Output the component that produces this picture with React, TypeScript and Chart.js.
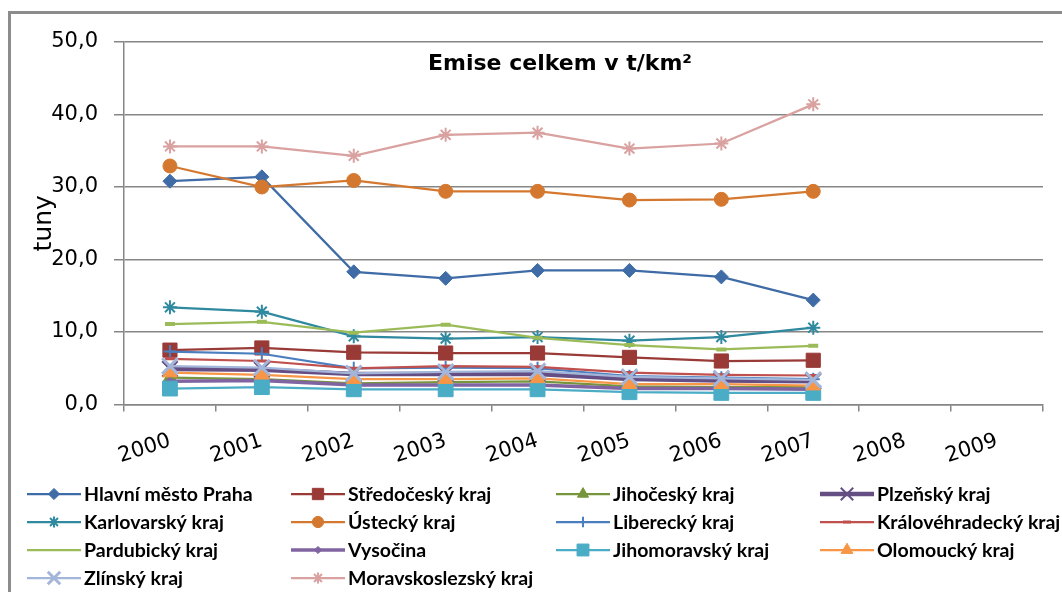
import React, { useEffect, useRef } from 'react';
import { Chart, registerables } from 'chart.js';
import { drawPoint } from 'chart.js/helpers';

Chart.register(...registerables);

const TITLE = 'Emise celkem v t/km²';
const Y_TITLE = 'tuny';
const years = ['2000', '2001', '2002', '2003', '2004', '2005', '2006', '2007', '2008', '2009'];

const seriesNames = [
  'Hlavní město Praha', 'Středočeský kraj', 'Jihočeský kraj', 'Plzeňský kraj',
  'Karlovarský kraj', 'Ústecký kraj', 'Liberecký kraj', 'Královéhradecký kraj',
  'Pardubický kraj', 'Vysočina', 'Jihomoravský kraj', 'Olomoucký kraj',
  'Zlínský kraj', 'Moravskoslezský kraj',
];

const praha = [30.8, 31.4, 18.3, 17.4, 18.5, 18.5, 17.6, 14.4];
const stredocesky = [7.5, 7.8, 7.2, 7.1, 7.1, 6.5, 6.0, 6.1];
const jihocesky = [3.7, 3.5, 2.9, 3.1, 3.2, 2.5, 2.4, 2.4];
const plzensky = [4.9, 4.8, 4.2, 4.2, 4.2, 3.5, 3.3, 3.2];
const karlovarsky = [13.4, 12.8, 9.4, 9.1, 9.3, 8.8, 9.3, 10.6];
const ustecky = [32.9, 30.0, 30.9, 29.4, 29.4, 28.2, 28.3, 29.4];
const liberecky = [7.3, 7.0, 5.0, 5.1, 5.0, 3.9, 3.7, 3.5];
const kralovehradecky = [6.3, 6.0, 5.0, 5.3, 5.2, 4.4, 4.1, 4.0];
const pardubicky = [11.1, 11.4, 9.9, 11.0, 9.2, 8.2, 7.6, 8.1];
const vysocina = [3.2, 3.3, 2.7, 2.7, 2.7, 2.2, 2.2, 2.1];
const jihomoravsky = [2.2, 2.4, 2.1, 2.1, 2.1, 1.7, 1.6, 1.6];
const olomoucky = [4.4, 4.1, 3.5, 3.5, 3.6, 2.8, 2.8, 2.6];
const zlinsky = [5.3, 5.1, 4.3, 4.5, 4.6, 3.8, 3.6, 3.4];
const moravskoslezsky = [35.6, 35.6, 34.3, 37.2, 37.5, 35.3, 36.0, 41.4];

const seriesValues = [
  praha, stredocesky, jihocesky, plzensky, karlovarsky, ustecky, liberecky,
  kralovehradecky, pardubicky, vysocina, jihomoravsky, olomoucky, zlinsky, moravskoslezsky,
];

const seriesStyles = [
  { c: '#3F6CA6', w: 2.25, s: 'rectRot', r: 7, bw: 1, lg: true },
  { c: '#993A37', w: 2.25, s: 'rect', r: 10, bw: 1, lg: true },
  { c: '#77953D', w: 2.25, s: 'triangle', r: 8, bw: 1, lg: true },
  { c: '#654E84', w: 4.5, s: 'crossRot', r: 11, bw: 2, lg: true },
  { c: '#2F8AA0', w: 2.25, s: 'star', r: 7, bw: 2, lg: true },
  { c: '#D5782F', w: 2.25, s: 'circle', r: 7, bw: 1, lg: true },
  { c: '#4A7EBF', w: 2.25, s: 'cross', r: 6.5, bw: 2, lg: true },
  { c: '#C0504D', w: 2.25, s: 'line', r: 5, bw: 3, lg: true },
  { c: '#9BBB59', w: 2.25, s: 'line', r: 5, bw: 4, lg: false },
  { c: '#8064A2', w: 3.5, s: 'rectRot', r: 4.5, bw: 1, lg: true },
  { c: '#4BACC6', w: 2.25, s: 'rect', r: 10.5, bw: 1, lg: true },
  { c: '#F79646', w: 2.25, s: 'triangle', r: 8.5, bw: 1, lg: true },
  { c: '#A3B6D9', w: 2.25, s: 'crossRot', r: 11, bw: 3, lg: true },
  { c: '#D9A1A0', w: 2.25, s: 'star', r: 7, bw: 2, lg: true },
];

const AXIS_FONT = 'DejaVu Sans';
const GRID = '#868686';
const FRAME = '#8c8c8c';

const decoPlugin = {
  id: 'deco',
  afterDraw(chart: any) {
    const ctx = chart.ctx as CanvasRenderingContext2D;
    ctx.save();
    ctx.fillStyle = '#000';
    ctx.font = `bold 22px "${AXIS_FONT}"`;
    ctx.textAlign = 'center';
    ctx.textBaseline = 'alphabetic';
    ctx.fillText(TITLE, 560, 70);
    const colX = [27, 291, 556, 820];
    const rowY = [494, 522, 550, 578];
    chart.data.datasets.forEach((ds: any, i: number) => {
      const st = seriesStyles[i];
      const x0 = colX[i % 4];
      const y = rowY[Math.floor(i / 4)];
      ctx.strokeStyle = st.c;
      ctx.fillStyle = st.c;
      ctx.lineWidth = st.w;
      ctx.beginPath();
      ctx.moveTo(x0, y);
      ctx.lineTo(x0 + 54, y);
      ctx.stroke();
      if (st.lg) {
        ctx.lineWidth = st.bw;
        drawPoint(ctx, { pointStyle: st.s, radius: st.r * 0.8, rotation: 0, borderWidth: st.bw } as any, x0 + 27, y);
      }
      ctx.fillStyle = '#000';
      ctx.font = 'bold 19.5px Lato';
      ctx.textAlign = 'left';
      ctx.textBaseline = 'alphabetic';
      ctx.fillText(ds.label, x0 + 57, y + 7);
    });
    ctx.restore();
  },
};

export default function App() {
  const ref = useRef<HTMLCanvasElement | null>(null);

  useEffect(() => {
    if (!ref.current) return;
    const n = seriesNames.length;
    const chart = new Chart(ref.current, {
      type: 'line',
      data: {
        labels: years,
        datasets: seriesNames.map((name, i) => {
          const st = seriesStyles[i];
          return {
            label: name,
            data: seriesValues[i],
            borderColor: st.c,
            backgroundColor: st.c,
            borderWidth: st.w,
            pointStyle: st.s as any,
            pointRadius: st.r,
            pointHoverRadius: st.r,
            pointBorderWidth: st.bw,
            pointBorderColor: st.c,
            pointBackgroundColor: st.c,
            tension: 0,
            fill: false,
            order: n - i,
          };
        }),
      },
      options: {
        responsive: false,
        animation: false,
        devicePixelRatio: 1,
        layout: { padding: { left: 0, top: 42, right: 19, bottom: 117.5 } },
        plugins: {
          legend: { display: false },
          title: { display: false },
          tooltip: { enabled: false },
        },
        scales: {
          x: {
            type: 'category',
            offset: true,
            grid: {
              display: true,
              drawOnChartArea: false,
              offset: true,
              drawTicks: true,
              tickLength: 7,
              color: GRID,
              lineWidth: 1.5,
            },
            border: { color: GRID, width: 1.5 },
            ticks: {
              minRotation: 18,
              maxRotation: 18,
              autoSkip: false,
              color: '#000',
              padding: 17,
              font: { family: AXIS_FONT, size: 21 },
            },
            afterFit: (s: any) => { s.height = 70; },
          },
          y: {
            min: 0,
            max: 50,
            ticks: {
              stepSize: 10,
              color: '#000',
              padding: 16,
              font: { family: AXIS_FONT, size: 21 },
              callback: (v: any) => Number(v).toFixed(1).replace('.', ','),
            },
            grid: { color: GRID, lineWidth: 1.5, tickLength: 10 },
            border: { color: GRID, width: 1.5 },
            title: {
              display: true,
              text: Y_TITLE,
              color: '#000',
              font: { family: AXIS_FONT, size: 25 },
              padding: { top: 29, bottom: 0 },
            },
            afterFit: (s: any) => { s.width = 124; },
          },
        },
      },
      plugins: [decoPlugin],
    });
    return () => chart.destroy();
  }, []);

  return (
    <div style={{ position: 'fixed', left: 0, top: 0, width: 1062, height: 592, background: '#fff', overflow: 'hidden' }}>
      <canvas ref={ref} width={1062} height={592} style={{ width: 1062, height: 592, display: 'block' }} />
      <div style={{ position: 'absolute', left: 8, top: 11, width: 1054, height: 2.5, background: FRAME }} />
      <div style={{ position: 'absolute', left: 8, top: 11, width: 2.5, height: 581, background: FRAME }} />
    </div>
  );
}
